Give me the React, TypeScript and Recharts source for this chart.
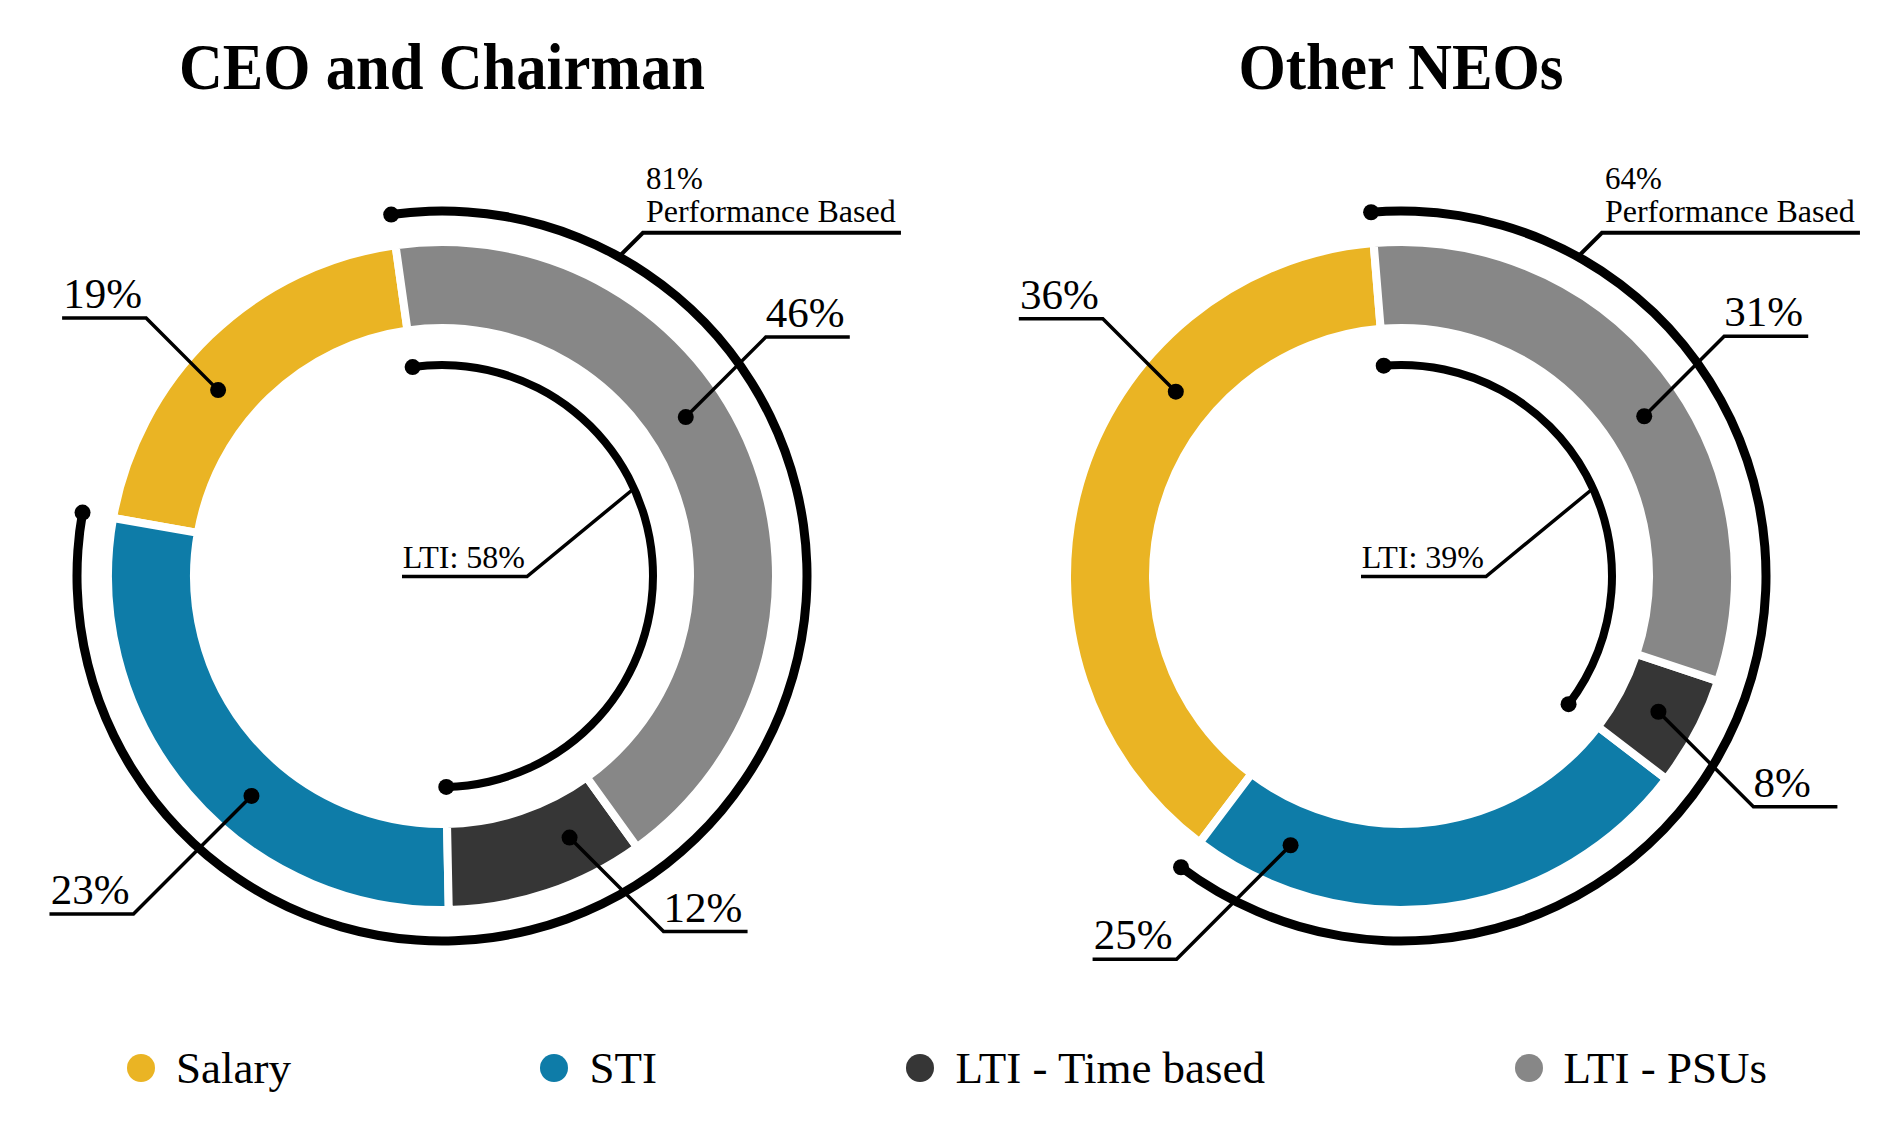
import React from 'react';
import { PieChart, Pie, Cell, Legend } from 'recharts';

// ---------- data ----------
const categories = ['Salary', 'STI', 'LTI - Time based', 'LTI - PSUs'];
// share of the ring occupied by each slice, as drawn (percent)
const ceoShares = [20.0, 28.1, 9.6, 42.3];
const neoShares = [38.4, 24.9, 5.3, 31.4];
// printed slice labels
const ceoLabels = ['19%', '23%', '12%', '46%'];
const neoLabels = ['36%', '25%', '8%', '31%'];
const chartTitles = ['CEO and Chairman', 'Other NEOs'];
const performanceLabels = ['81%', '64%'];
const performanceCaption = 'Performance Based';
const ltiLabels = ['LTI: 58%', 'LTI: 39%'];

// ---------- style / layout ----------
const COLORS = ['#EAB424', '#0E7CA8', '#363636', '#878787'];
const FONT = '"Liberation Serif", "Times New Roman", serif';
const W = 1890;
const H = 1122;

const LAYOUT = [
  { cx: 442, cy: 576, startAngle: 98, titleWidth: 526, labelAngles: [-50.3, 220.9, 154, 56.9], leader: [72, 118, 94, 80] },
  { cx: 1401, cy: 576, startAngle: 94.7, titleWidth: 325, labelAngles: [-50.7, 202.3, 117.8, 56.7], leader: [73, 114, 95, 80] },
];

const charts = [
  { title: chartTitles[0], shares: ceoShares, labels: ceoLabels, perf: performanceLabels[0], lti: ltiLabels[0], ...LAYOUT[0] },
  { title: chartTitles[1], shares: neoShares, labels: neoLabels, perf: performanceLabels[1], lti: ltiLabels[1], ...LAYOUT[1] },
];

const sum = (a: number[]) => a.reduce((s, v) => s + v, 0);
const sliceTable = (shares: number[]) => categories.map((name, i) => ({ name, value: shares[i] }));
const perfTable = (shares: number[]) => [
  { name: 'Fixed', value: shares[0] },
  { name: performanceCaption, value: sum(shares.slice(1)) },
];
const ltiTable = (shares: number[]) => [
  { name: 'Cash', value: shares[0] + shares[1] },
  { name: 'LTI', value: shares[2] + shares[3] },
];

const RAD = Math.PI / 180;
// theta: degrees clockwise from 12 o'clock
const polar = (cx: number, cy: number, r: number, theta: number) => ({
  x: cx + r * Math.sin(theta * RAD),
  y: cy - r * Math.cos(theta * RAD),
});

const makeSliceLabel = (chart: any) => (props: any) => {
  const { cx, cy, innerRadius, outerRadius, index } = props;
  const theta = chart.labelAngles[index];
  const p = polar(cx, cy, (innerRadius + outerRadius) / 2, theta);
  const sx = Math.sin(theta * RAD) >= 0 ? 1 : -1;
  const sy = Math.cos(theta * RAD) >= 0 ? -1 : 1;
  const d = chart.leader[index];
  const ex = p.x + sx * d;
  const ey = p.y + sy * d;
  const ux = ex + sx * 84;
  return (
    <g key={`slice-label-${index}`}>
      <polyline points={`${p.x},${p.y} ${ex},${ey} ${ux},${ey}`} fill="none" stroke="#000" strokeWidth={3.5} />
      <circle cx={p.x} cy={p.y} r={8} fill="#000" />
      <text
        x={sx > 0 ? ex : ex - 4}
        y={ey - 10}
        textAnchor={sx > 0 ? 'start' : 'end'}
        fontFamily={FONT}
        fontSize={43}
        fill="#000"
      >
        {chart.labels[index]}
      </text>
    </g>
  );
};

const makePerfLabel = (chart: any) => (props: any) => {
  const { cx, cy, innerRadius, outerRadius, startAngle, endAngle, index } = props;
  if (index !== 1) return <g key="perf-empty" />;
  const r = (innerRadius + outerRadius) / 2;
  const a = polar(cx, cy, r, 90 - startAngle);
  const b = polar(cx, cy, r, 90 - endAngle);
  const p = polar(cx, cy, r, 29);
  const ex = p.x + 24;
  const ey = p.y - 24;
  return (
    <g key="perf-label">
      <circle cx={a.x} cy={a.y} r={8} fill="#000" />
      <circle cx={b.x} cy={b.y} r={8} fill="#000" />
      <polyline points={`${p.x},${p.y} ${ex},${ey} ${ex + 258},${ey}`} fill="none" stroke="#000" strokeWidth={4} />
      <text x={ex + 3} y={ey - 44} fontFamily={FONT} fontSize={31} fill="#000">{chart.perf}</text>
      <text x={ex + 3} y={ey - 11} fontFamily={FONT} fontSize={32} fill="#000">{performanceCaption}</text>
    </g>
  );
};

const makeLtiLabel = (chart: any) => (props: any) => {
  const { cx, cy, innerRadius, outerRadius, startAngle, endAngle, index } = props;
  if (index !== 1) return <g key="lti-empty" />;
  const r = (innerRadius + outerRadius) / 2;
  const a = polar(cx, cy, r, 90 - startAngle);
  const b = polar(cx, cy, r, 90 - endAngle);
  const p = polar(cx, cy, r, 65.5);
  const ex = p.x - 107;
  const ey = p.y + 88;
  return (
    <g key="lti-label">
      <circle cx={a.x} cy={a.y} r={8} fill="#000" />
      <circle cx={b.x} cy={b.y} r={8} fill="#000" />
      <polyline points={`${p.x},${p.y} ${ex},${ey} ${ex - 125},${ey}`} fill="none" stroke="#000" strokeWidth={3.5} />
      <text x={ex - 2} y={ey - 8} textAnchor="end" fontFamily={FONT} fontSize={32} fill="#000">{chart.lti}</text>
    </g>
  );
};

const renderLegend = (props: any) => {
  const payload: any[] = props && props.payload ? props.payload : [];
  const present = categories.filter((n) => payload.some((p: any) => p && p.value === n));
  const names: string[] = present.length ? present : categories;
  return (
    <div style={{ display: 'flex', justifyContent: 'space-between', alignItems: 'center', width: 1640, height: 50 }}>
      {names.map((n) => {
        const i = categories.indexOf(n);
        return (
          <div key={n} style={{ display: 'flex', alignItems: 'center', height: 50 }}>
            <span
              style={{
                display: 'inline-block',
                width: 28,
                height: 28,
                borderRadius: 14,
                background: COLORS[i],
                marginRight: 21,
              }}
            />
            <span style={{ fontFamily: FONT, fontSize: 45, lineHeight: '50px', color: '#000', whiteSpace: 'nowrap' }}>{n}</span>
          </div>
        );
      })}
    </div>
  );
};

export default function App() {
  return (
    <div style={{ position: 'absolute', left: 0, top: 0, width: W, height: H, background: '#fff', overflow: 'hidden' }}>
      <PieChart width={W} height={H} margin={{ top: 0, right: 0, bottom: 0, left: 0 }}>
        {charts.map((c, ci) => (
          <Pie
            key={`donut-${ci}`}
            data={sliceTable(c.shares)}
            dataKey="value"
            nameKey="name"
            cx={c.cx}
            cy={c.cy}
            innerRadius={248}
            outerRadius={334}
            startAngle={c.startAngle}
            endAngle={c.startAngle + 360}
            stroke="#fff"
            strokeWidth={8}
            isAnimationActive={false}
            legendType={ci === 0 ? 'circle' : 'none'}
            label={makeSliceLabel(c)}
            labelLine={false}
          >
            {categories.map((name, i) => (
              <Cell key={name} fill={COLORS[i]} />
            ))}
          </Pie>
        ))}
        {charts.map((c, ci) => (
          <Pie
            key={`perf-${ci}`}
            data={perfTable(c.shares)}
            dataKey="value"
            nameKey="name"
            cx={c.cx}
            cy={c.cy}
            innerRadius={360.5}
            outerRadius={369.5}
            startAngle={c.startAngle}
            endAngle={c.startAngle + 360}
            stroke="none"
            isAnimationActive={false}
            legendType="none"
            label={makePerfLabel(c)}
            labelLine={false}
          >
            <Cell fill="transparent" />
            <Cell fill="#000" />
          </Pie>
        ))}
        {charts.map((c, ci) => (
          <Pie
            key={`lti-${ci}`}
            data={ltiTable(c.shares)}
            dataKey="value"
            nameKey="name"
            cx={c.cx}
            cy={c.cy}
            innerRadius={207}
            outerRadius={215}
            startAngle={c.startAngle}
            endAngle={c.startAngle + 360}
            stroke="none"
            isAnimationActive={false}
            legendType="none"
            label={makeLtiLabel(c)}
            labelLine={false}
          >
            <Cell fill="transparent" />
            <Cell fill="#000" />
          </Pie>
        ))}
        <Legend
          content={renderLegend}
          wrapperStyle={{ left: 127, top: 1043, bottom: 'auto', width: 1640, height: 50 }}
        />
      </PieChart>
      <svg width={W} height={H} style={{ position: 'absolute', left: 0, top: 0, pointerEvents: 'none' }}>
        {charts.map((c, ci) => (
          <text
            key={`title-${ci}`}
            x={c.cx}
            y={89}
            textAnchor="middle"
            fontFamily={FONT}
            fontWeight="bold"
            fontSize={66}
            textLength={c.titleWidth}
            lengthAdjust="spacingAndGlyphs"
            fill="#000"
          >
            {c.title}
          </text>
        ))}
      </svg>
    </div>
  );
}
